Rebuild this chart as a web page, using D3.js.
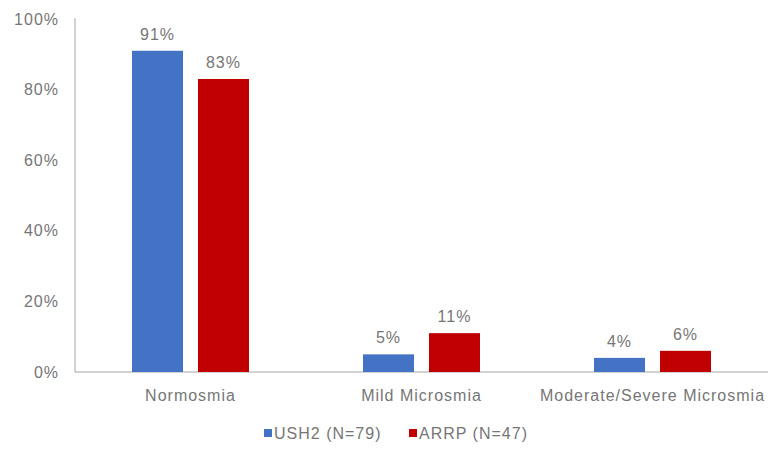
<!DOCTYPE html>
<html>
<head>
<meta charset="utf-8">
<script src="https://cdn.jsdelivr.net/npm/d3@7"></script>
<style>
  body { margin: 0; background: #fff; }
  text { font-family: "Liberation Sans", Arial, sans-serif; fill: #767676; letter-spacing: 1px; }
</style>
</head>
<body>
<div id="chart"></div>
<script>
// olfaction categories by group
const categories = ["Normosmia", "Mild Microsmia", "Moderate/Severe Microsmia"];
const seriesNames = ["USH2 (N=79)", "ARRP (N=47)"];
const ush2Values = [91, 5, 4];
const arrpValues = [83, 11, 6];
const yTicks = [0, 20, 40, 60, 80, 100];
const colors = ["#4472C4", "#C00000"];

function drawChart() {
    const width = 770, height = 449;
    const margin = { top: 19, right: 2, bottom: 77, left: 75 };
    const innerW = width - margin.left - margin.right;
    const innerH = height - margin.top - margin.bottom;

    const data = categories.map((c, i) => ({
        category: c,
        values: [ush2Values[i], arrpValues[i]]
    }));

    const svg = d3.select("#chart").append("svg")
        .attr("width", width)
        .attr("height", height);
    const g = svg.append("g")
        .attr("transform", `translate(${margin.left},${margin.top})`);

    // scales
    const x0 = d3.scaleBand().domain(categories).range([0, innerW]).padding(0);
    const x1 = d3.scaleBand().domain([0, 1])
        .range([57, 174])
        .paddingInner(0.227).paddingOuter(0);
    const y = d3.scaleLinear().domain([0, 100]).range([innerH, 0]);

    // y axis line + labels
    g.append("line")
        .attr("x1", 0).attr("x2", 0)
        .attr("y1", y(100) - 1).attr("y2", innerH)
        .attr("stroke", "#a6a6a6");
    g.selectAll(".ytick")
        .data(yTicks)
        .enter().append("text")
        .attr("x", -16)
        .attr("y", d => y(d))
        .attr("dy", "0.35em")
        .attr("text-anchor", "end")
        .style("font-size", "16px")
        .text(d => d + "%");

    // x axis line
    g.append("line")
        .attr("x1", 0).attr("x2", innerW)
        .attr("y1", innerH).attr("y2", innerH)
        .attr("stroke", "#a6a6a6");

    // category labels
    g.selectAll(".xlabel")
        .data(categories)
        .enter().append("text")
        .attr("x", d => x0(d) + x0.bandwidth() / 2)
        .attr("y", innerH + 23)
        .attr("dy", "0.35em")
        .attr("text-anchor", "middle")
        .style("font-size", "16px")
        .text(d => d);

    // bars
    const groups = g.selectAll(".grp")
        .data(data)
        .enter().append("g")
        .attr("transform", d => `translate(${x0(d.category)},0)`);

    groups.selectAll("rect")
        .data(d => d.values.map((v, i) => ({ i: i, v: v })))
        .enter().append("rect")
        .attr("x", d => x1(d.i))
        .attr("y", d => y(d.v))
        .attr("width", x1.bandwidth())
        .attr("height", d => innerH - y(d.v))
        .attr("fill", d => colors[d.i]);

    groups.selectAll(".vlabel")
        .data(d => d.values.map((v, i) => ({ i: i, v: v })))
        .enter().append("text")
        .attr("x", d => x1(d.i) + x1.bandwidth() / 2)
        .attr("y", d => y(d.v) - 11)
        .attr("text-anchor", "middle")
        .style("font-size", "16px")
        .text(d => d.v + "%");

    // legend
    const legendX = [264, 409];
    const legend = svg.selectAll(".legend")
        .data(seriesNames)
        .enter().append("g")
        .attr("transform", (d, i) => `translate(${legendX[i]},433)`);
    legend.append("rect")
        .attr("x", 0).attr("y", -4)
        .attr("width", 8).attr("height", 8)
        .attr("fill", (d, i) => colors[i]);
    legend.append("text")
        .attr("x", 10)
        .attr("y", 0)
        .attr("dy", "0.35em")
        .style("font-size", "16px")
        .text(d => d);
}

document.addEventListener("DOMContentLoaded", drawChart);
</script>
</body>
</html>
